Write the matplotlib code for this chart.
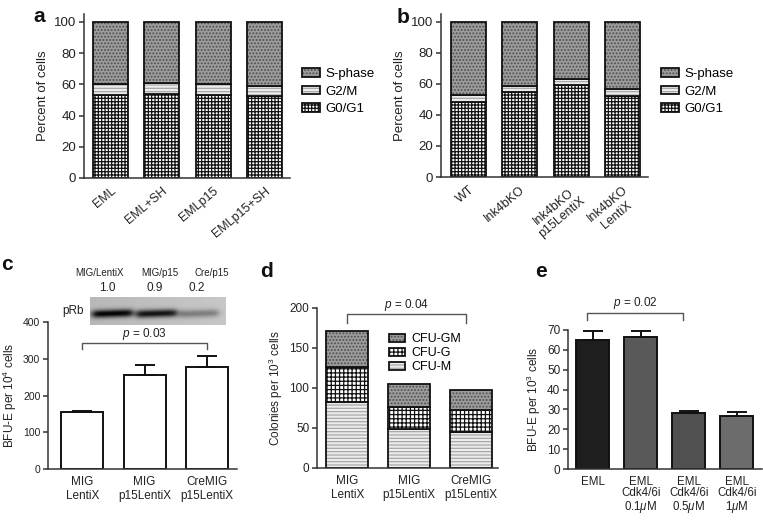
import numpy as np
import matplotlib
matplotlib.use('Agg')
import matplotlib.pyplot as plt
from matplotlib.patches import Patch

plt.rcParams['font.family'] = ['Liberation Sans', 'DejaVu Sans']
plt.rcParams['mathtext.fontset'] = 'custom'
plt.rcParams['mathtext.rm'] = 'Liberation Sans'
plt.rcParams['mathtext.it'] = 'Liberation Sans:italic'
plt.rcParams['mathtext.bf'] = 'Liberation Sans:bold'
plt.rcParams['hatch.linewidth'] = 0.9

# ---------------- data ----------------
a_labels = ['EML', 'EML+SH', 'EMLp15', 'EMLp15+SH']
a_g0g1 = [53.2, 53.8, 53.2, 52.6]
a_g2m = [6.8, 6.9, 6.8, 6.6]
a_sphase = [40.0, 39.3, 40.0, 40.8]

b_labels = ['WT', 'Ink4bKO', 'Ink4bKO\np15LentiX', 'Ink4bKO\nLentiX']
b_g0g1 = [48.3, 54.5, 59.0, 52.0]
b_g2m = [4.7, 4.0, 4.3, 4.8]
b_sphase = [47.0, 41.5, 36.7, 43.2]

phase_names = ['G0/G1', 'G2/M', 'S-phase']

c_labels = ['MIG\nLentiX', 'MIG\np15LentiX', 'CreMIG\np15LentiX']
c_values = [154, 256, 278]
c_errors = [3, 27, 29]
c_pvalue = 'p = 0.03'
blot_lanes = ['MIG/LentiX', 'MIG/p15', 'Cre/p15']
blot_quant = [1.0, 0.9, 0.2]

d_labels = ['MIG\nLentiX', 'MIG\np15LentiX', 'CreMIG\np15LentiX']
d_cfu_m = [82, 49, 45]
d_cfu_g = [44, 27, 27]
d_cfu_gm = [45, 29, 25.5]
d_pvalue = 'p = 0.04'

e_labels = ['EML', 'EML\nCdk4/6i\n0.1$\\mu$M', 'EML\nCdk4/6i\n0.5$\\mu$M',
            'EML\nCdk4/6i\n1$\\mu$M']
e_values = [65.0, 66.5, 28.2, 26.7]
e_errors = [4.5, 3.0, 0.8, 1.8]
e_pvalue = 'p = 0.02'

# ---------------- styles ----------------
W, H = 763, 521
fig = plt.figure(figsize=(W / 100, H / 100), dpi=100)

EDGE = '#111111'
AX = '#333333'
TXT = '#222222'
STYLE_S = dict(face='#9c9c9c', hatch='.....', hcolor='#4e4e4e')
STYLE_G2 = dict(face='#ececec', hatch='-----', hcolor='#a8a8a8')
STYLE_G0 = dict(face='#ffffff', hatch='+++++', hcolor='#111111')
STYLE_CFUG = dict(face='#ffffff', hatch='++++', hcolor='#111111')


def add_ax(x0, x1, y_top, y_bot):
    return fig.add_axes([x0 / W, 1 - y_bot / H, (x1 - x0) / W, (y_bot - y_top) / H])


def style_ax(ax, fs_y, fs_x):
    for s in ['top', 'right']:
        ax.spines[s].set_visible(False)
    for s in ['left', 'bottom']:
        ax.spines[s].set_linewidth(1.1)
        ax.spines[s].set_color(AX)
    ax.tick_params(axis='y', direction='out', length=3.5, width=1.1, color=AX,
                   labelsize=fs_y, pad=2, labelcolor=TXT)
    ax.tick_params(axis='x', length=0, labelsize=fs_x, pad=4, labelcolor=TXT)


def hatched_bars(ax, x, h, bottom, st, width):
    ax.bar(x, h, width, bottom=bottom, color=st['face'], hatch=st['hatch'],
           edgecolor=st['hcolor'], linewidth=0)
    ax.bar(x, h, width, bottom=bottom, fill=False, edgecolor=EDGE, linewidth=1.3)


def legend_handle(st):
    p1 = Patch(facecolor=st['face'], hatch=st['hatch'], edgecolor=st['hcolor'], linewidth=0)
    p2 = Patch(facecolor='none', edgecolor=EDGE, linewidth=1.3)
    return (p1, p2)


def bracket(ax, x0, x1, ylo, yhi, ytext, text, fs):
    ax.plot([x0, x0, x1, x1], [ylo, yhi, yhi, ylo], color='#555555', lw=1.0,
            clip_on=False)
    rest = text.split(' = ')[1]
    ax.text((x0 + x1) / 2, ytext, '$p$ = ' + rest, ha='center', va='center',
            fontsize=fs, color=TXT, clip_on=False)


# ---------------- panel a / b ----------------
def cell_cycle_panel(ax, labels, g0, g2, s):
    x = np.arange(len(labels))
    g0 = np.array(g0); g2 = np.array(g2); s = np.array(s)
    hatched_bars(ax, x, g0, 0, STYLE_G0, 0.68)
    hatched_bars(ax, x, g2, g0, STYLE_G2, 0.68)
    hatched_bars(ax, x, s, g0 + g2, STYLE_S, 0.68)
    ax.set_ylim(0, 105)
    ax.set_yticks([0, 20, 40, 60, 80, 100])
    ax.set_xticks(x)
    ax.set_xticklabels(labels, rotation=40, ha='right', va='top',
                       rotation_mode='anchor', multialignment='center')
    ax.set_ylabel('Percent of cells', fontsize=9.5, color=TXT, labelpad=4)
    style_ax(ax, 9.5, 9)
    ax.tick_params(axis='x', pad=5)


ax_a = add_ax(84, 290, 14, 178)
cell_cycle_panel(ax_a, a_labels, a_g0g1, a_g2m, a_sphase)
ax_a.set_xlim(-0.52, 3.5)

ax_b = add_ax(441, 648, 14, 177)
cell_cycle_panel(ax_b, b_labels, b_g0g1, b_g2m, b_sphase)
ax_b.set_xlim(-0.54, 3.5)

handles = [legend_handle(STYLE_S), legend_handle(STYLE_G2), legend_handle(STYLE_G0)]
leg_labels = [phase_names[2], phase_names[1], phase_names[0]]
for lx in (302, 661):
    fig.legend(handles, leg_labels, loc='upper left',
               bbox_to_anchor=(lx / W, 1 - 68 / H), frameon=False, fontsize=9.5,
               handlelength=1.35, handleheight=0.6, handletextpad=0.4,
               labelspacing=0.42, borderaxespad=0, borderpad=0)

# ---------------- panel c ----------------
ax_c = add_ax(48, 237, 322, 469)
xc = np.arange(len(c_labels))
ax_c.bar(xc, c_values, 0.67, color='white', edgecolor=EDGE, linewidth=1.4)
ax_c.errorbar(xc, c_values, yerr=[np.zeros(len(c_errors)), c_errors], fmt='none',
              ecolor=EDGE, elinewidth=1.4, capsize=7, capthick=1.4)
ax_c.set_ylim(0, 400)
ax_c.set_xlim(-0.55, 2.48)
ax_c.set_yticks([0, 100, 200, 300, 400])
ax_c.set_xticks(xc)
ax_c.set_xticklabels(c_labels)
ax_c.set_ylabel('BFU-E per 10$^4$ cells', fontsize=8.5, color=TXT, labelpad=3)
style_ax(ax_c, 7.5, 8.5)
ax_c.tick_params(axis='x', pad=5)
bracket(ax_c, 0, 2, 327, 343, 368, c_pvalue, 8.5)

# western blot inset
ax_blot = add_ax(90, 226, 297, 325)
ny, nx = 28, 136
yy = np.arange(ny)[:, None]
xx = np.arange(nx)[None, :]
img = 0.72 + 0.06 * (xx / nx) + 0.0 * yy
for cx, q in zip([22, 66, 108], blot_quant):
    prof_x = 1 / (1 + np.exp((np.abs(xx - cx) - 20) / 2.0))
    prof_y = np.exp(-((yy - 16 - 0.03 * (cx - xx)) / 4.0) ** 2)
    img = img - 0.72 * q ** 0.6 * prof_x * prof_y
img = np.clip(img, 0, 1)
ax_blot.imshow(img, cmap='gray', vmin=0, vmax=1, aspect='auto',
               interpolation='bilinear')
ax_blot.set_axis_off()

for lab, xpos in zip(blot_lanes, [99, 160, 212]):
    fig.text(xpos / W, 1 - 273 / H, lab, ha='center', va='center', fontsize=7,
             color=TXT)
for q, xpos in zip(blot_quant, [107, 155, 197]):
    fig.text(xpos / W, 1 - 288 / H, f'{q:.1f}', ha='center', va='center',
             fontsize=8.5, color=TXT)
fig.text(62 / W, 1 - 311 / H, 'pRb', ha='left', va='center', fontsize=8.5,
         color=TXT)

# ---------------- panel d ----------------
ax_d = add_ax(317, 498, 308, 468)
xd = np.arange(len(d_labels))
m = np.array(d_cfu_m); g = np.array(d_cfu_g); gm = np.array(d_cfu_gm)
hatched_bars(ax_d, xd, m, 0, STYLE_G2, 0.68)
hatched_bars(ax_d, xd, g, m, STYLE_CFUG, 0.68)
hatched_bars(ax_d, xd, gm, m + g, STYLE_S, 0.68)
ax_d.set_ylim(0, 200)
ax_d.set_xlim(-0.49, 2.44)
ax_d.set_yticks([0, 50, 100, 150, 200])
ax_d.set_xticks(xd)
ax_d.set_xticklabels(d_labels)
ax_d.set_ylabel('Colonies per 10$^3$ cells', fontsize=8.5, color=TXT, labelpad=3)
style_ax(ax_d, 8.5, 8.5)
ax_d.tick_params(axis='x', pad=5)
bracket(ax_d, 0, 1.93, 181, 192, 204, d_pvalue, 8.5)
fig.legend([legend_handle(STYLE_S), legend_handle(STYLE_CFUG), legend_handle(STYLE_G2)],
           ['CFU-GM', 'CFU-G', 'CFU-M'], loc='upper left',
           bbox_to_anchor=(389 / W, 1 - 333 / H), frameon=False, fontsize=9,
           handlelength=1.3, handleheight=0.6, handletextpad=0.5,
           labelspacing=0.18, borderaxespad=0, borderpad=0)

# ---------------- panel e ----------------
ax_e = add_ax(568, 762, 330, 469)
xe = np.arange(len(e_labels))
e_colors = ['#1e1e1e', '#595959', '#505050', '#6c6c6c']
ax_e.bar(xe, e_values, 0.685, color=e_colors, edgecolor=EDGE, linewidth=1.4)
ax_e.errorbar(xe, e_values, yerr=[np.zeros(len(e_errors)), e_errors], fmt='none',
              ecolor=EDGE, elinewidth=1.4, capsize=7, capthick=1.4)
ax_e.set_ylim(0, 70)
ax_e.set_xlim(-0.51, 3.52)
ax_e.set_yticks(np.arange(0, 71, 10))
ax_e.set_xticks(xe)
ax_e.set_xticklabels(e_labels, linespacing=0.95)
ax_e.set_ylabel('BFU-E per 10$^3$ cells', fontsize=8.5, color=TXT, labelpad=3)
style_ax(ax_e, 8.5, 8.3)
ax_e.tick_params(axis='x', pad=5)
bracket(ax_e, -0.11, 1.88, 75, 78.5, 83.6, e_pvalue, 8.5)

# ---------------- panel letters ----------------
for letter, (px, py) in zip('abcde', [(33, 22), (397, 23), (1, 270), (260, 277), (535, 277)]):
    fig.text(px / W, 1 - py / H, letter, fontsize=15, fontweight='bold',
             ha='left', va='baseline', color='#111111')

fig.savefig('out.png', dpi=100)
